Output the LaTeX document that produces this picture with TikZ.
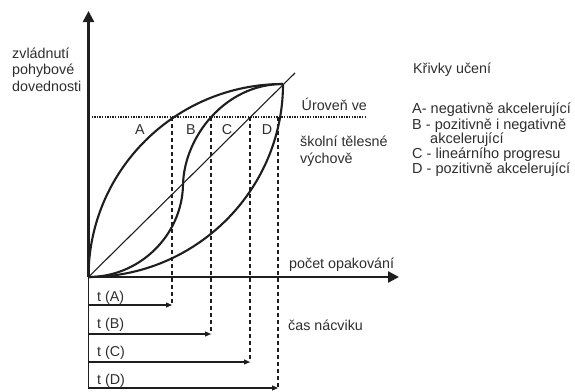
\documentclass[tikz,border=0pt]{standalone}
\usepackage{fontspec}
\setmainfont{Liberation Sans}
\usetikzlibrary{arrows.meta}
\definecolor{ink}{HTML}{1E1E1E}
\definecolor{txt}{HTML}{2E2E2E}
\tikzset{
  lbl/.style={inner sep=0pt, anchor=base west, text=txt, font=\fontsize{14.3}{16}\selectfont},
  leg/.style={inner sep=0pt, anchor=base west, text=txt, font=\fontsize{14.5}{16}\selectfont},
  lblc/.style={inner sep=0pt, anchor=base, text=txt, font=\fontsize{14.3}{16}\selectfont},
  axis/.style={draw=ink, line width=2.4pt, -{Triangle[length=11pt,width=11pt]}},
  curve/.style={draw=ink, line width=2.1pt},
  thinline/.style={draw=ink, line width=1.1pt},
  guide/.style={draw=ink, line width=1.1pt, dash pattern=on 4pt off 3pt},
  level/.style={draw=ink, line width=1.6pt, dash pattern=on 1.3pt off 1.3pt},
  timearrow/.style={draw=ink, line width=1.1pt, -{Triangle[length=6pt,width=5pt]}}
}
\begin{document}
\begin{tikzpicture}[x=1pt,y=-1pt]
\useasboundingbox (0,0) rectangle (575,391);
% key points
\coordinate (O) at (88.5,277);
\coordinate (Ytop) at (88.5,11);
\coordinate (Xend) at (399,277);
\coordinate (T) at (283,84);
\coordinate (Cend) at (295,73);
\coordinate (Lbot) at (88.5,389);
\coordinate (M) at (183,185);
\coordinate (Lv0) at (89,117);
\coordinate (Lv1) at (367,117);
% dashed guides
\coordinate (dA) at (172,117); \coordinate (bA) at (172,305); \coordinate (sA) at (88.5,305);
\coordinate (dB) at (211,117); \coordinate (bB) at (211,334); \coordinate (sB) at (88.5,334);
\coordinate (dC) at (250,117); \coordinate (bC) at (250,362); \coordinate (sC) at (88.5,362);
\coordinate (dD) at (278,117); \coordinate (bD) at (278,388); \coordinate (sD) at (88.5,388);

% level line
\draw[level] (Lv0) -- (Lv1);
% guides
\draw[guide] (dA) -- (bA);
\draw[guide] (dB) -- (bB);
\draw[guide] (dC) -- (bC);
\draw[guide] (dD) -- (bD);
% time arrows
\draw[thinline] (O) -- (Lbot);
\draw[timearrow] (sA) -- (bA);
\draw[timearrow] (sB) -- (bB);
\draw[timearrow] (sC) -- (bC);
\draw[timearrow] (sD) -- (bD);

% curves
\draw[curve] (O) .. controls (88.5,170) and (176,84) .. (T);
\draw[curve] (O) .. controls (140,277) and (182,235) .. (M)
              .. controls (184,137) and (225,84) .. (T);
\draw[thinline] (O) -- (Cend);
\draw[curve] (O) .. controls (196,277) and (283,190) .. (T);

% axes
\draw[axis] (O) -- (Ytop);
\draw[axis] (O) -- (Xend);

% texts
\node[lbl] (y1) at (12,58) {zvládnutí};
\node[lbl] (y2) at (12,74.5) {pohybové};
\node[lbl] (y3) at (12,91) {dovednosti};
\node[lbl] (xl) at (289,268) {počet opakování};
\node[lbl] (tl) at (288,330) {čas nácviku};
\node[lbl] (u1) at (301.5,110.5) {Úroveň ve};
\node[lbl] (u2) at (300,146.5) {školní tělesné};
\node[lbl] (u3) at (300,163) {výchově};
\node[lblc] (la) at (140,134) {A};
\node[lblc] (lb) at (191,134) {B};
\node[lblc] (lc) at (227,134) {C};
\node[lblc] (ld) at (267,134) {D};
\node[lbl] (ta) at (97,301) {t (A)};
\node[lbl] (tb) at (97,328.5) {t (B)};
\node[lbl] (tc) at (97,356.5) {t (C)};
\node[lbl] (td) at (97,384) {t (D)};
\node[lbl] (k0) at (413,73.5) {Křivky učení};
\node[leg] (k1) at (412,113) {A- negativně akcelerující};
\node[leg] (k2) at (412,129) {B - pozitivně i negativně};
\node[leg] (k3) at (430,143.5) {akcelerující};
\node[leg] (k4) at (412,158.5) {C - lineárního progresu};
\node[leg] (k5) at (412,173) {D - pozitivně akcelerující};
\end{tikzpicture}
\end{document}
